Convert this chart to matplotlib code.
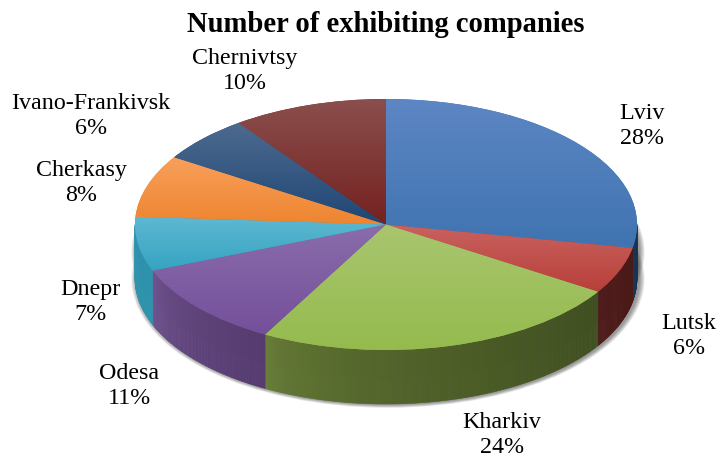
import numpy as np
import matplotlib
matplotlib.use("Agg")
import matplotlib.pyplot as plt
from matplotlib.patches import Ellipse
from matplotlib.colors import to_rgb

title = "Number of exhibiting companies"
cities = ["Lviv", "Lutsk", "Kharkiv", "Odesa", "Dnepr", "Cherkasy", "Ivano-Frankivsk", "Chernivtsy"]
shares = [28, 6, 24, 11, 7, 8, 6, 10]

# look of each slice: top of face, bottom of face, wall left, wall right
face_top = ["#5d86c4", "#c9625f", "#a9c56f", "#8a6cab", "#5fb8d2", "#f8a05c", "#4d6a8f", "#8a4f4d"]
face_bot = ["#3f74b0", "#b83f3a", "#95bb4e", "#74509a", "#35a4c1", "#ee8530", "#1f4775", "#752220"]
wall_left = ["#1c3a60", "#4f1a1a", "#6c8239", "#755796", "#2f93ad", "#000000", "#000000", "#000000"]
wall_right = ["#16324f", "#4a1a18", "#404f20", "#553b70", "#2f93ad", "#000000", "#000000", "#000000"]
# label centres in pixels
label_pos = [(642, 126), (689, 336), (502, 435), (129, 386), (90, 302), (81, 183), (91, 116), (245, 71)]

W, H = 719, 458
cx, cy, rx, ry, depth = 386, 224.5, 251, 125.5, 54

fig = plt.figure(figsize=(W / 100, H / 100), dpi=100)
ax = fig.add_axes([0, 0, 1, 1])

plt.rcParams["font.family"] = ["Liberation Serif", "DejaVu Serif"]

wedges, _ = ax.pie(shares, startangle=90, counterclock=False, radius=1, center=(0, 0), colors=face_bot,
                   wedgeprops={"linewidth": 0, "zorder": 2})
d = depth / ry

# soft shadow round the lower edge
for i in range(8):
    grow = 0.0028 * (8 - i)
    for off in [d, d * 0.5]:
        ax.add_patch(Ellipse((0.008, -off - 0.004), 2 + 2 * grow, 2 + 2 * grow * rx / ry * 0.6,
                             fc="#303030", ec="none", alpha=0.08, zorder=0))

# walls
for i, w in enumerate(wedges):
    t1 = w.theta1 % 360
    t2 = t1 + (w.theta2 - w.theta1)
    for lo, hi in [(180, 360), (540, 720)]:
        a, b = max(t1, lo), min(t2, hi)
        if a >= b:
            continue
        steps = max(int((b - a) * 2), 2)
        edges = np.linspace(a, b, steps + 1)
        c0, c1 = np.array(to_rgb(wall_left[i])), np.array(to_rgb(wall_right[i]))
        for j in range(steps):
            th = np.radians(np.linspace(edges[j], edges[j + 1], 4))
            xs = np.cos(th)
            ys = np.sin(th)
            col = c0 + (c1 - c0) * ((j + 0.5) / steps) ** 0.5
            ax.fill(np.r_[xs, xs[::-1]], np.r_[ys, ys[::-1] - d], fc=col, ec=col, lw=0.4, zorder=1)

# gradient on each top face
for i, w in enumerate(wedges):
    th = np.radians(np.linspace(w.theta1, w.theta2, 60))
    ys = np.r_[0, np.sin(th)]
    c0, c1 = np.array(to_rgb(face_top[i])), np.array(to_rgb(face_bot[i]))
    grad = np.linspace(c0, c1, 64)[:, None, :]
    im = ax.imshow(grad, extent=[-1.02, 1.02, ys.min(), ys.max()], origin="upper", aspect="auto",
                   interpolation="bilinear", zorder=3)
    im.set_clip_path(w)

ax.set_aspect("auto")
ax.set_xlim(-cx / rx, (W - cx) / rx)
ax.set_ylim((cy - H) / ry, cy / ry)
ax.axis("off")

fig.text(386 / W, 1 - 24 / H, title, ha="center", va="center", fontsize=20.6, fontweight="bold", color="black")
for name, share, (px, py) in zip(cities, shares, label_pos):
    fig.text(px / W, 1 - py / H, f"{name}\n{share}%", ha="center", va="center", fontsize=17.3,
             color="black", linespacing=1.28)

fig.savefig("out.png", dpi=100)
